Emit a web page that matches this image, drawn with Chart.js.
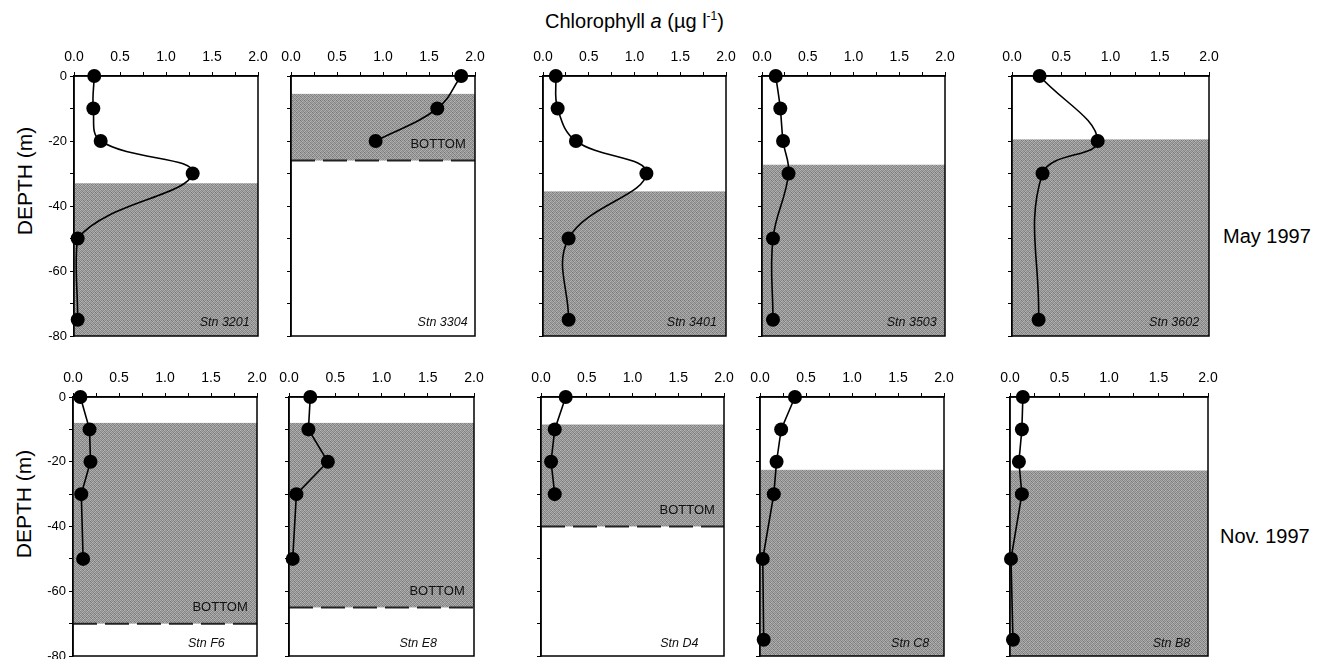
<!DOCTYPE html>
<html>
<head>
<meta charset="utf-8">
<script src="https://cdn.jsdelivr.net/npm/chart.js@4"></script>
<style>
  html, body { margin: 0; padding: 0; background: #fff; overflow: hidden; }
  body { width: 1321px; height: 659px; position: relative; font-family: "Liberation Sans", Arial, sans-serif; color: #000; }
  canvas { position: absolute; }
  .txt { position: absolute; white-space: nowrap; line-height: 1; }
  .title { font-size: 20px; }
  .title sup { font-size: 12px; vertical-align: 8px; line-height: 0; }
  .ylab { font-size: 21px; transform: translate(-50%, -50%) rotate(-90deg); }
  .period { font-size: 20px; transform: translateY(-50%); }
</style>
</head>
<body>
<div class="txt title" id="title" style="left:545px; top:11px;">Chlorophyll <i>a</i> (µg l<sup>-1</sup>)</div>
<div class="txt ylab" style="left:24px; top:181px;">DEPTH (m)</div>
<div class="txt ylab" style="left:23px; top:504px;">DEPTH (m)</div>
<div class="txt period" style="left:1223px; top:236px;">May 1997</div>
<div class="txt period" style="left:1220px; top:536px;">Nov. 1997</div>

<script>
// ---------------- DATA ----------------
// Station names
const stationsMay = ['Stn 3201', 'Stn 3304', 'Stn 3401', 'Stn 3503', 'Stn 3602'];
const stationsNov = ['Stn F6', 'Stn E8', 'Stn D4', 'Stn C8', 'Stn B8'];

// Sampling depths (m) and chlorophyll a (µg/l), May 1997
const depth3201 = [0, -10, -20, -30, -50, -75];
const chl3201   = [0.22, 0.21, 0.29, 1.29, 0.04, 0.04];
const depth3304 = [0, -10, -20];
const chl3304   = [1.85, 1.59, 0.92];
const depth3401 = [0, -10, -20, -30, -50, -75];
const chl3401   = [0.14, 0.16, 0.36, 1.13, 0.28, 0.28];
const depth3503 = [0, -10, -20, -30, -50, -75];
const chl3503   = [0.15, 0.20, 0.23, 0.29, 0.12, 0.12];
const depth3602 = [0, -20, -30, -75];
const chl3602   = [0.28, 0.87, 0.31, 0.27];

// Nov. 1997
const depthF6 = [0, -10, -20, -30, -50];
const chlF6   = [0.08, 0.18, 0.19, 0.09, 0.11];
const depthE8 = [0, -10, -20, -30, -50];
const chlE8   = [0.23, 0.21, 0.42, 0.08, 0.04];
const depthD4 = [0, -10, -20, -30];
const chlD4   = [0.27, 0.15, 0.11, 0.15];
const depthC8 = [0, -10, -20, -30, -50, -75];
const chlC8   = [0.38, 0.23, 0.18, 0.15, 0.03, 0.04];
const depthB8 = [0, -10, -20, -30, -50, -75];
const chlB8   = [0.13, 0.12, 0.09, 0.12, 0.01, 0.03];

// Shaded layer (depth range, m) and sea bottom depth (m, null = not shown)
const shadeTopMay    = [-33, -5.5, -35.5, -27.3, -19.5];
const shadeBottomMay = [-80, -26, -80, -80, -80];
const seabedMay      = [null, -26, null, null, null];
const shadeTopNov    = [-8, -8, -8.5, -22.5, -22.7];
const shadeBottomNov = [-70, -65, -40, -80, -80];
const seabedNov      = [-70, -65, -40, null, null];

// Axis ticks
const xTickLabels = ['0.0', '0.5', '1.0', '1.5', '2.0'];
const yTickLabels = [0, -20, -40, -60, -80];

// ---------------- LAYOUT / STYLE ----------------
const rowTop = [76, 397];
const rowBottom = [336, 656];
const colLeft = [[74, 291, 543, 762, 1012], [73, 289, 541, 760, 1010]];
const colRight = [[258, 475, 726, 945, 1209], [257, 474, 724, 944, 1208]];
const stnLabelX = [[1.91, 1.92, 1.90, 1.91, 1.90], [1.65, 1.60, 1.72, 1.84, 1.82]];
const bottomLabelX = 1.9;
const FONT = '"Liberation Sans", Arial, sans-serif';
const PADL = 60, PADT = 45, PADR = 20, PADB = 12;

// stipple pattern for the shaded layer
const patCanvas = document.createElement('canvas');
patCanvas.width = 4; patCanvas.height = 4;
(function () {
  const g = [
    [132, 178, 142, 166],
    [172, 118, 168, 136],
    [150, 166, 126, 184],
    [160, 140, 176, 130]
  ];
  const pctx = patCanvas.getContext('2d');
  for (let r = 0; r < 4; r++) for (let c = 0; c < 4; c++) {
    pctx.fillStyle = 'rgb(' + g[r][c] + ',' + g[r][c] + ',' + g[r][c] + ')';
    pctx.fillRect(c, r, 1, 1);
  }
})();

const panelDecor = {
  id: 'panelDecor',
  beforeDatasetsDraw(chart, args, o) {
    const ctx = chart.ctx, a = chart.chartArea, x = chart.scales.x, y = chart.scales.y;
    ctx.save();
    ctx.fillStyle = ctx.createPattern(patCanvas, 'repeat');
    const y1 = y.getPixelForValue(o.shadeTop), y2 = y.getPixelForValue(o.shadeBottom);
    ctx.fillRect(a.left, y1, a.right - a.left, y2 - y1);
    if (o.seabed !== null) {
      const ys = y.getPixelForValue(o.seabed);
      ctx.strokeStyle = '#222';
      ctx.lineWidth = 2;
      ctx.setLineDash([24, 8]);
      ctx.beginPath();
      ctx.moveTo(a.left, ys);
      ctx.lineTo(a.right, ys);
      ctx.stroke();
      ctx.setLineDash([]);
      ctx.fillStyle = '#111';
      ctx.font = '13px ' + FONT;
      ctx.textAlign = 'right';
      ctx.textBaseline = 'middle';
      ctx.fillText('BOTTOM', x.getPixelForValue(bottomLabelX), y.getPixelForValue(o.seabed + 5));
    }
    ctx.fillStyle = '#111';
    ctx.font = 'italic 12.5px ' + FONT;
    ctx.textAlign = 'right';
    ctx.textBaseline = 'middle';
    ctx.fillText(o.station, x.getPixelForValue(o.stnX), y.getPixelForValue(-76));
    ctx.strokeStyle = '#000';
    ctx.lineWidth = 1.5;
    ctx.strokeRect(a.left, a.top, a.right - a.left, a.bottom - a.top);
    ctx.restore();
  }
};

function makePanel(row, col, station, depths, chl, shadeTop, shadeBottom, seabed, curved) {
  const l = colLeft[row][col], r = colRight[row][col], t = rowTop[row], b = rowBottom[row];
  const cv = document.createElement('canvas');
  const W = (r - l) + PADL + PADR, H = (b - t) + PADT + PADB;
  cv.width = W; cv.height = H;
  cv.style.left = (l - PADL) + 'px';
  cv.style.top = (t - PADT) + 'px';
  cv.style.width = W + 'px'; cv.style.height = H + 'px';
  document.body.appendChild(cv);
  const showY = col === 0;
  new Chart(cv, {
    type: 'line',
    data: {
      datasets: [{
        data: depths.map((d, i) => ({ x: chl[i], y: d })),
        borderColor: '#000',
        borderWidth: 1.6,
        backgroundColor: '#000',
        pointBackgroundColor: '#000',
        pointBorderWidth: 0,
        pointRadius: 7,
        tension: curved ? 0.4 : 0,
        clip: false,
        fill: false
      }]
    },
    options: {
      responsive: false,
      animation: false,
      devicePixelRatio: 1,
      indexAxis: 'y',
      layout: { padding: { left: 0, top: 0, right: PADR, bottom: PADB } },
      plugins: {
        legend: { display: false },
        tooltip: { enabled: false },
        panelDecor: {
          station: station,
          stnX: stnLabelX[row][col],
          shadeTop: shadeTop, shadeBottom: shadeBottom, seabed: seabed
        }
      },
      scales: {
        x: {
          type: 'linear', position: 'top', min: 0, max: 2,
          afterFit(s) { s.height = PADT; },
          border: { display: true, color: '#000', width: 1.5 },
          grid: { display: true, drawOnChartArea: false, drawTicks: true, tickLength: 4, color: '#000', tickColor: '#000', tickWidth: 1 },
          ticks: {
            stepSize: 0.25, autoSkip: false, maxRotation: 0, minRotation: 0, padding: 6,
            color: '#000', font: { family: FONT, size: 14 },
            callback(v) {
              const k = Math.round(v * 2);
              return Math.abs(v * 2 - k) < 1e-9 ? xTickLabels[k] : '';
            }
          }
        },
        y: {
          type: 'linear', position: 'left', min: -80, max: 0,
          afterFit(s) { s.width = PADL; },
          border: { display: true, color: '#000', width: 1.5 },
          grid: { display: true, drawOnChartArea: false, drawTicks: true, tickLength: 4, color: '#000', tickColor: '#000', tickWidth: 1 },
          ticks: {
            stepSize: 10, autoSkip: false, padding: 3,
            color: '#000', font: { family: FONT, size: 13 },
            callback(v) {
              return showY && yTickLabels.indexOf(v) >= 0 ? String(v) : '';
            }
          }
        }
      }
    },
    plugins: [panelDecor]
  });
}

const mayDepths = [depth3201, depth3304, depth3401, depth3503, depth3602];
const mayChl = [chl3201, chl3304, chl3401, chl3503, chl3602];
const novDepths = [depthF6, depthE8, depthD4, depthC8, depthB8];
const novChl = [chlF6, chlE8, chlD4, chlC8, chlB8];

for (let c = 0; c < 5; c++) {
  makePanel(0, c, stationsMay[c], mayDepths[c], mayChl[c], shadeTopMay[c], shadeBottomMay[c], seabedMay[c], true);
  makePanel(1, c, stationsNov[c], novDepths[c], novChl[c], shadeTopNov[c], shadeBottomNov[c], seabedNov[c], false);
}
</script>
</body>
</html>
